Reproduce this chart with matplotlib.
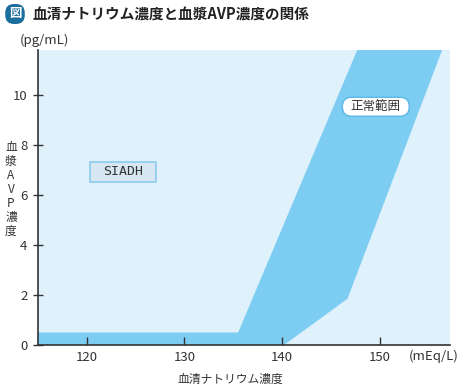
import matplotlib
matplotlib.use("Agg")
import matplotlib.pyplot as plt
from matplotlib.patches import FancyBboxPatch, Rectangle

plt.rcParams['font.family'] = ['Noto Sans CJK JP', 'DejaVu Sans']

# Data
x_ticks = [120, 130, 140, 150]
y_ticks = [0, 2, 4, 6, 8, 10]
x_range = (115, 157.2)
y_range = (0, 11.8)

# Normal range polygon boundaries (serum Na in mEq/L, AVP in pg/mL)
left_edge_na = [115, 115, 135.5, 147.7]
left_edge_avp = [0, 0.5, 0.5, 11.8]
right_edge_na = [156.4, 146.7, 140.2]
right_edge_avp = [11.8, 1.85, 0]

siadh_label = 'SIADH'
normal_label = '正常範囲'
siadh_pos = (123.7, 6.93)
normal_pos = (149.6, 9.53)

dark = '#7dcdf3'
light = '#dff1fb'
ink = '#333333'

fig = plt.figure(figsize=(4.64, 3.90), dpi=100)
ax = fig.add_axes([38/464, 1-345/390, (450-38)/464, (345-50)/390])
ax.set_facecolor(light)
ax.fill(left_edge_na + right_edge_na, left_edge_avp + right_edge_avp,
        color=dark, lw=0, zorder=1)
ax.set_xlim(*x_range)
ax.set_ylim(*y_range)
ax.set_xticks(x_ticks)
ax.set_yticks(y_ticks)
ax.tick_params(direction='in', length=6, width=1, colors=ink, labelsize=9.5, pad=4)
ax.tick_params(axis='y', direction='inout', length=7)
for s in ['top', 'right']:
    ax.spines[s].set_visible(False)
for s in ['left', 'bottom']:
    ax.spines[s].set_color(ink)
    ax.spines[s].set_linewidth(1.2)
    ax.spines[s].set_zorder(5)

# pixel -> data scale
px_x = (x_range[1] - x_range[0]) / 412.0
px_y = (y_range[1] - y_range[0]) / 295.0

# SIADH box
w, h = 66 * px_x, 20 * px_y
ax.add_patch(Rectangle((siadh_pos[0] - w/2, siadh_pos[1] - h/2), w, h,
                       fc='#d6e7f1', ec='#8ccbee', lw=1.2, zorder=3))
ax.text(*siadh_pos, siadh_label, ha='center', va='center', fontsize=9.5, color=ink,
        family=['DejaVu Sans Mono', 'DejaVu Sans'], zorder=4)

# Normal range label box
w, h = 67 * px_x, 19 * px_y
r = 9.5 * px_x
ax.add_patch(FancyBboxPatch((normal_pos[0] - w/2 + r, normal_pos[1] - h/2 + r*px_y/px_x),
                            w - 2*r, h - 2*r*px_y/px_x,
                            boxstyle=f'round,pad={r},rounding_size={r}',
                            mutation_aspect=px_y/px_x,
                            fc='white', ec='#5bb8e8', lw=1, zorder=3))
ax.text(*normal_pos, normal_label, ha='center', va='center', fontsize=9, color=ink, zorder=4)

# Units and axis labels
fig.text(20/464, 1-40/390, '(pg/mL)', fontsize=9.5, color=ink, va='center', ha='left')
fig.text(409/464, 1-356/390, '(mEq/L)', fontsize=9.5, color=ink, va='center', ha='left')
fig.text(230/464, 1-379/390, '血清ナトリウム濃度', fontsize=8.5, color=ink, va='center', ha='center')
fig.text(11/464, 1-189/390, '血\n漿\nA\nV\nP\n濃\n度', fontsize=8.5, color=ink,
         va='center', ha='center', linespacing=1.1)

# Title
fig.text(15/464, 1-14/390, '図', fontsize=9, color='white', weight='bold',
         va='center', ha='center',
         bbox=dict(boxstyle='round,pad=0.28,rounding_size=0.7', fc='#1c6e9c', ec='none'))
fig.text(33/464, 1-14/390, '血清ナトリウム濃度と血漿AVP濃度の関係', fontsize=10.5,
         color='#222222', weight='bold', va='center', ha='left')

fig.savefig('out.png', dpi=100, facecolor='white')
